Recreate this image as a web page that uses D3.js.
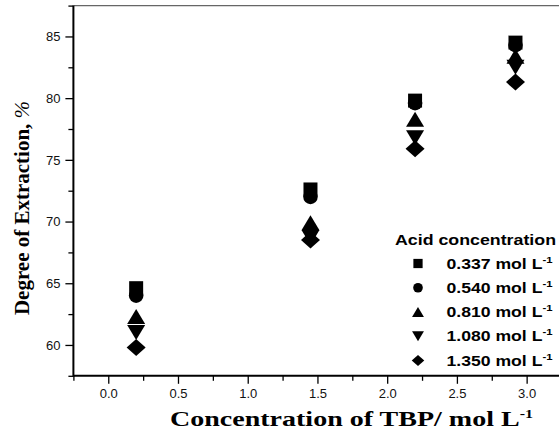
<!DOCTYPE html>
<html>
<head>
<meta charset="utf-8">
<script src="https://d3js.org/d3.v7.min.js"></script>
<style>
  body { margin: 0; background: #fff; }
  svg { display: block; }
  .tick text { font-family: "Liberation Sans", Arial, sans-serif; font-size: 13px; fill: #111; }
</style>
</head>
<body>
<div id="chart"></div>
<script>
// TBP concentration (mol/L) and degree of extraction (%) per acid concentration
var tbp = [0.2, 1.45, 2.2, 2.92];
var acidLabels = ["0.337", "0.540", "0.810", "1.080", "1.350"];
var ext337 = [64.6, 72.6, 79.8, 84.5];
var ext540 = [64.0, 72.0, 79.6, 84.3];
var ext810 = [62.3, 69.9, 78.3, 83.4];
var ext1080 = [61.0, 68.7, 76.8, 82.5];
var ext1350 = [59.8, 68.5, 75.9, 81.3];
var xTicks = [0, 0.5, 1.0, 1.5, 2.0, 2.5, 3.0];
var xMinor = [-0.25, 0.25, 0.75, 1.25, 1.75, 2.25, 2.75, 3.25];
var yTicks = [60, 65, 70, 75, 80, 85];
var yMinor = [57.5, 62.5, 67.5, 72.5, 77.5, 82.5, 87.5];

var series = [
    {acid: acidLabels[0], values: ext337, shape: "square"},
    {acid: acidLabels[1], values: ext540, shape: "circle"},
    {acid: acidLabels[2], values: ext810, shape: "up"},
    {acid: acidLabels[3], values: ext1080, shape: "down"},
    {acid: acidLabels[4], values: ext1350, shape: "diamond"}
];

var width = 559,
    height = 443;

var svg = d3.select("#chart").append("svg")
    .attr("width", width)
    .attr("height", height);

var x = d3.scaleLinear().domain([-0.25, 3.25]).range([73.4, 561.5]);
var y = d3.scaleLinear().domain([57.5, 87.5]).range([375.8, 5.6]);

// marker outline centred on 0,0; k scales it down for the legend
function marker(shape, k) {
    var s = function(v) { return v * k; };
    if (shape == "square") {
        return "M" + s(-7) + "," + s(-7) + "H" + s(7) + "V" + s(7) + "H" + s(-7) + "Z";
    }
    if (shape == "circle") {
        var r = s(7.3);
        return "M" + (-r) + ",0A" + r + "," + r + " 0 1,0 " + r + ",0A" + r + "," + r + " 0 1,0 " + (-r) + ",0Z";
    }
    if (shape == "up") {
        return "M0," + s(-7.5) + "L" + s(9) + "," + s(7.5) + "H" + s(-9) + "Z";
    }
    if (shape == "down") {
        return "M0," + s(7.5) + "L" + s(9) + "," + s(-7.5) + "H" + s(-9) + "Z";
    }
    return "M0," + s(-8.5) + "L" + s(9.5) + ",0L0," + s(8.5) + "L" + s(-9.5) + ",0Z";
}

// axes
var xAxis = svg.append("g")
    .attr("transform", "translate(0," + y(57.5) + ")")
    .call(d3.axisBottom(x).tickValues(xTicks).tickSize(8).tickPadding(5)
        .tickFormat(d3.format(".1f")));

svg.append("g")
    .attr("transform", "translate(0," + y(57.5) + ")")
    .call(d3.axisBottom(x).tickValues(xMinor).tickSize(5).tickFormat(""));

var yAxis = svg.append("g")
    .attr("transform", "translate(" + x(-0.25) + ",0)")
    .call(d3.axisLeft(y).tickValues(yTicks).tickSize(8).tickPadding(5));

svg.append("g")
    .attr("transform", "translate(" + x(-0.25) + ",0)")
    .call(d3.axisLeft(y).tickValues(yMinor).tickSize(5).tickFormat(""));

svg.selectAll(".domain").remove();
svg.selectAll(".tick line").attr("stroke", "#000").attr("stroke-width", 1.3);

// frame lines
svg.append("line")
    .attr("x1", x(-0.25)).attr("x2", width)
    .attr("y1", y(87.5)).attr("y2", y(87.5))
    .attr("stroke", "#666").attr("stroke-width", 1.3);
svg.append("line")
    .attr("x1", x(-0.25)).attr("x2", width)
    .attr("y1", y(57.5)).attr("y2", y(57.5))
    .attr("stroke", "#000").attr("stroke-width", 2);
svg.append("line")
    .attr("x1", x(-0.25)).attr("x2", x(-0.25))
    .attr("y1", y(87.5)).attr("y2", y(57.5) + 1)
    .attr("stroke", "#000").attr("stroke-width", 2);

// data points
series.forEach(function(sr) {
    svg.append("g").selectAll("path")
        .data(sr.values)
        .enter().append("path")
        .attr("d", marker(sr.shape, 1))
        .attr("fill", "#000")
        .attr("transform", function(d, i) { return "translate(" + x(tbp[i]) + "," + y(d) + ")"; });
});

// axis titles
var xLabel = svg.append("text")
    .attr("x", 170).attr("y", 426)
    .attr("textLength", 363).attr("lengthAdjust", "spacingAndGlyphs")
    .style("font-family", "'Liberation Serif', 'Times New Roman', serif")
    .style("font-weight", "bold")
    .style("font-size", "21px");
xLabel.append("tspan").text("Concentration of TBP/ mol L");
xLabel.append("tspan").attr("dy", -8).style("font-size", "12px").text("-1");

var yLabel = svg.append("text")
    .attr("transform", "translate(29,208) rotate(-90)")
    .attr("text-anchor", "middle")
    .style("font-family", "'Liberation Serif', 'Times New Roman', serif")
    .style("font-weight", "bold")
    .style("font-size", "21px");
yLabel.append("tspan").text("Degree of Extraction, ");
yLabel.append("tspan").style("font-style", "italic").style("font-weight", "normal").text("%");

// legend
var legend = svg.append("g");

legend.append("text")
    .attr("x", 395).attr("y", 244.5)
    .attr("textLength", 161).attr("lengthAdjust", "spacingAndGlyphs")
    .style("font-family", "'Liberation Sans', Arial, sans-serif")
    .style("font-weight", "bold")
    .style("font-size", "15px")
    .text("Acid concentration");

var item = legend.selectAll(".item")
    .data(series)
    .enter().append("g")
    .attr("class", "item")
    .attr("transform", function(d, i) { return "translate(0," + (263.5 + i * 24.25) + ")"; });

item.append("path")
    .attr("d", function(d) { return marker(d.shape, 0.66); })
    .attr("transform", "translate(418,0)")
    .attr("fill", "#000");

var itemText = item.append("text")
    .attr("x", 446.5).attr("y", 5)
    .attr("textLength", 106).attr("lengthAdjust", "spacingAndGlyphs")
    .style("font-family", "'Liberation Sans', Arial, sans-serif")
    .style("font-weight", "bold")
    .style("font-size", "14px");
itemText.append("tspan").text(function(d) { return d.acid + " mol L"; });
itemText.append("tspan").attr("dy", -6).style("font-size", "9px").text("-1");
</script>
</body>
</html>
